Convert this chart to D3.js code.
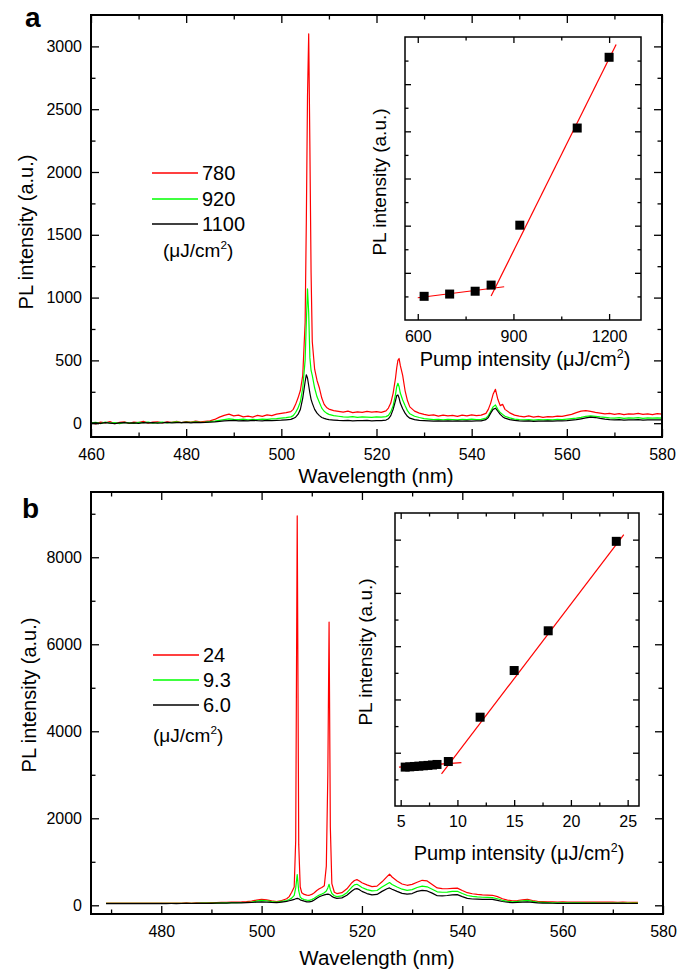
<!DOCTYPE html>
<html>
<head>
<meta charset="utf-8">
<script src="https://cdn.jsdelivr.net/npm/d3@7"></script>
<style>
body { margin: 0; background: #fff; }
text { font-family: Arial, "Liberation Sans", sans-serif; }
</style>
</head>
<body>
<script>
// ---- panel a: spectra at 780 / 920 / 1100 uJ/cm2 ----
let wlA = [460,461,462,463,464,465,466,467,468,469,470,471,472,473,474,475,476,477,478,479,480,481,482,483,484,485,486,
  487,488,489,490,491,492,493,494,495,496,497,498,499,500,501,502,
  502.5,503,503.5,504,504.5,505,
  505.25,505.5,505.75,506,506.25,506.5,
  507,507.5,508,508.5,509,509.5,510,
  511,512,513,514,515,516,517,518,519,520,521,522,
  522.5,523,523.5,524,
  524.25,524.5,524.75,525,
  525.5,526,526.5,527,
  528,529,530,531,532,533,534,535,536,537,538,539,540,541,542,543,
  543.5,544,544.5,545,545.5,546,546.5,547,
  548,549,550,551,552,553,554,555,556,557,558,559,560,561,562,563,564,565,566,567,568,569,570,571,572,573,574,575,576,577,578,579,580];
let a780 = [5,-6,8,2,12,-4,6,10,-2,9,4,14,0,8,11,3,10,6,15,4,12,8,16,10,14,18,30,
  48,62,72,58,64,50,56,48,62,54,66,60,72,78,84,92,
  110,150,200,260,380,800,
  1600,2600,3100,2200,1200,650,
  430,340,280,200,150,125,112,
  100,94,88,96,84,90,86,94,88,92,86,98,
  120,160,240,360,
  440,500,515,460,
  380,260,180,130,
  96,80,70,62,66,56,64,58,62,54,64,58,66,60,64,78,
  110,160,230,270,190,140,150,110,
  82,64,56,50,58,48,54,46,52,50,56,54,62,70,84,96,100,94,86,80,74,78,70,76,68,74,72,78,70,74,68,76,72];
let a920 = [2,6,-4,8,0,5,-3,7,3,-2,6,4,9,1,5,8,3,7,10,4,8,6,10,7,9,12,16,
  22,28,34,30,28,32,26,30,28,32,30,34,36,40,44,50,
  60,85,120,170,280,500,
  800,1070,880,520,420,380,
  280,210,165,120,95,80,70,
  60,55,50,48,52,46,50,48,46,50,48,52,
  62,90,140,230,
  290,318,290,240,
  185,140,100,75,
  55,45,36,32,28,30,26,30,28,26,30,28,32,28,30,40,
  60,95,130,145,110,85,70,55,
  42,32,28,26,28,24,28,26,28,26,30,28,32,36,40,46,55,58,55,50,46,42,40,44,38,42,40,44,38,42,40,42,40];
let a1100 = [0,3,-2,4,1,-3,2,5,0,3,-1,4,2,5,1,3,6,2,5,4,6,3,7,5,6,8,10,
  14,18,20,22,19,21,18,22,20,19,22,20,23,24,27,30,
  38,48,70,110,200,330,
  385,360,300,240,190,160,
  110,80,60,45,38,32,28,
  25,22,20,22,19,21,20,22,19,21,20,25,
  35,60,110,180,
  220,225,200,160,
  115,80,55,40,
  28,22,20,18,16,19,17,18,16,18,17,19,16,18,18,28,
  45,80,110,119,95,70,52,40,
  28,22,18,16,18,15,17,16,18,17,19,18,20,24,28,35,42,48,45,38,32,28,26,28,25,27,26,28,25,27,26,27,26];
let legendA = ["780", "920", "1100"];

// inset a: integrated PL vs pump
let pumpA = [620, 700, 780, 830, 920, 1100, 1200];
let plA = [502, 550, 610, 740, 2010, 4070, 5570];
let fitLowA = [[600, 472], [871, 705]];
let fitHighA = [[830, 508], [1222, 5841]];

// ---- panel b: spectra at 24 / 9.3 / 6.0 uJ/cm2 ----
let wlB = [469,470,471,472,473,474,475,476,477,478,479,480,481,482,483,484,485,486,487,488,
  489,490,491,492,493,494,495,496,497,498,499,500,501,502,503,504,
  505,505.5,506,506.5,506.8,507.1,507.4,507.7,508,
  508.5,509,509.5,510,510.5,511,511.5,512,512.5,
  512.9,513.2,513.45,513.7,514,514.5,515,
  516,517,518,518.5,519,519.5,520,
  521,522,523,524,525,525.5,526,
  527,528,529,530,531,532,533,534,535,536,537,538,539,540,541,542,543,544,545,546,
  547,548,549,550,551,552,553,554,555,556,557,558,559,560,561,562,563,564,565,566,
  567,568,569,570,571,572,573,574,575];
let b24 = [52,50,48,50,49,48,50,49,48,50,49,48,50,52,50,52,54,52,55,56,
  58,60,62,66,70,74,76,78,84,95,120,135,125,100,85,110,
  150,200,300,420,1500,8950,1400,420,290,
  250,235,230,250,290,340,380,410,450,
  900,3000,6510,1800,500,300,270,
  290,380,520,570,590,560,520,
  470,430,440,540,660,715,650,
  560,490,460,480,530,575,560,480,400,385,380,390,395,340,290,265,250,240,235,230,
  200,150,118,105,110,125,138,110,90,85,80,78,76,78,76,75,76,74,75,76,
  74,72,73,72,70,71,70,68,68];
let b93 = [45,44,43,44,43,42,44,43,42,44,43,42,44,45,44,45,46,45,47,48,
  49,50,52,55,58,60,62,64,68,76,95,112,105,85,72,90,
  110,135,165,230,400,706,330,190,155,
  130,118,115,130,160,200,235,260,290,
  330,400,483,360,270,220,200,
  215,290,420,470,483,450,410,
  360,330,340,420,490,522,480,
  420,370,345,360,410,440,425,370,310,300,305,318,322,270,225,205,192,185,180,176,
  150,115,92,82,88,100,115,90,72,66,62,58,56,56,55,55,54,54,53,54,
  53,52,53,52,51,52,51,50,50];
let b60 = [40,40,39,40,39,38,40,39,38,40,39,38,40,41,40,41,42,41,43,44,
  45,46,48,50,52,54,56,58,60,64,72,77,74,66,62,75,
  90,105,120,135,150,160,150,125,112,
  95,80,77,90,120,160,195,220,240,
  250,255,250,235,205,175,160,
  170,230,330,370,384,360,320,
  270,240,250,320,380,399,370,
  320,275,255,270,320,345,330,280,220,215,225,240,245,200,160,145,140,136,138,136,
  115,88,70,62,66,72,77,65,55,50,48,47,46,46,45,45,45,44,44,44,
  43,43,43,42,42,42,41,41,41];
let legendB = ["24", "9.3", "6.0"];

let pumpB = [5.4, 5.8, 6.2, 6.6, 7.0, 7.4, 7.8, 8.2, 9.2, 12, 15, 18, 24];
let plB = [730, 735, 742, 748, 755, 762, 770, 780, 835, 1667, 2543, 3289, 4968];
let fitLowB = [[4.85, 729], [10.35, 816]];
let fitHighB = [[8.6, 601], [24.66, 5094]];

let colors = ["#ff0000", "#00ff00", "#000000"];

// ---------------------------------------------------------------
let svg = d3.select("body").append("svg").attr("width", 680).attr("height", 971);

function ticks(g, axis, tr, vals, size, fmt, pad, fs) {
  let a = g.append("g")
    .attr("transform", tr)
    .call(axis.tickValues(vals).tickSize(-size).tickPadding(pad).tickFormat(fmt));
  a.select(".domain").remove();
  a.selectAll("line").attr("stroke", "#000").attr("stroke-width", 1.3);
  a.selectAll("text").attr("font-size", fs).attr("fill", "#000")
    .attr("font-family", "Arial, 'Liberation Sans', sans-serif");
  return a;
}

function frame(x, y, o) {
  let g = svg.append("g");
  let [x0, x1] = x.range();
  let [yb, yt] = y.range();
  let fmt = d3.format("d");
  ticks(g, d3.axisBottom(x), `translate(0,${yb})`, o.xMaj, o.maj, o.xFmt || fmt, o.xPad, o.fs);
  ticks(g, d3.axisBottom(x), `translate(0,${yb})`, o.xMin, o.min, "", 0, o.fs);
  ticks(g, d3.axisTop(x), `translate(0,${yt})`, o.xMaj, o.maj, "", 0, o.fs);
  ticks(g, d3.axisTop(x), `translate(0,${yt})`, o.xMin, o.min, "", 0, o.fs);
  ticks(g, d3.axisLeft(y), `translate(${x0},0)`, o.yMaj, o.maj, o.yLab ? fmt : "", o.yPad, o.fs);
  ticks(g, d3.axisLeft(y), `translate(${x0},0)`, o.yMin, o.min, "", 0, o.fs);
  ticks(g, d3.axisRight(y), `translate(${x1},0)`, o.yMaj, o.maj, "", 0, o.fs);
  ticks(g, d3.axisRight(y), `translate(${x1},0)`, o.yMin, o.min, "", 0, o.fs);
  g.append("rect")
    .attr("x", x0).attr("y", yt)
    .attr("width", x1 - x0).attr("height", yb - yt)
    .attr("fill", "none").attr("stroke", "#000").attr("stroke-width", o.sw);
  return g;
}

function spectra(x, y, wl, series, id) {
  let [x0, x1] = x.range();
  let [yb, yt] = y.range();
  svg.append("clipPath").attr("id", id).append("rect")
    .attr("x", x0).attr("y", yt).attr("width", x1 - x0).attr("height", yb - yt);
  let line = d3.line().x((d) => x(d[0])).y((d) => y(d[1]));
  series.forEach(function (s, k) {
    if (s.length != wl.length) console.error("length mismatch", id, k, s.length, wl.length);
    svg.append("path")
      .attr("clip-path", `url(#${id})`)
      .attr("d", line(wl.map((w, i) => [w, s[i]])))
      .attr("fill", "none")
      .attr("stroke", colors[k])
      .attr("stroke-width", 1.2)
      .attr("stroke-linejoin", "round");
  });
}

function legend(labels, x0, rows, unitY, unitX) {
  labels.forEach(function (l, k) {
    svg.append("line")
      .attr("x1", x0).attr("x2", x0 + 46)
      .attr("y1", rows[k]).attr("y2", rows[k])
      .attr("stroke", colors[k]).attr("stroke-width", 1.4);
    svg.append("text")
      .attr("x", x0 + 50).attr("y", rows[k] + 7)
      .attr("font-size", 20).text(l);
  });
  unitText(unitX, unitY, 19, "start");
}

function unitText(x, y, fs, anchor, prefix) {
  let t = svg.append("text").attr("x", x).attr("y", y)
    .attr("font-size", fs).attr("text-anchor", anchor);
  t.append("tspan").text((prefix || "") + "(\u03bcJ/cm");
  t.append("tspan").attr("font-size", fs * 0.62).attr("dy", -fs * 0.42).text("2");
  t.append("tspan").attr("dy", fs * 0.42).text(")");
}

function inset(x, y, pump, pl, lo, hi, o) {
  svg.append("rect")
    .attr("x", x.range()[0]).attr("y", y.range()[1])
    .attr("width", x.range()[1] - x.range()[0])
    .attr("height", y.range()[0] - y.range()[1])
    .attr("fill", "#fff");
  frame(x, y, o);
  [lo, hi].forEach(function (f) {
    svg.append("line")
      .attr("x1", x(f[0][0])).attr("y1", y(f[0][1]))
      .attr("x2", x(f[1][0])).attr("y2", y(f[1][1]))
      .attr("stroke", "#ff0000").attr("stroke-width", 1.2);
  });
  svg.selectAll(null)
    .data(pump.map((p, i) => [p, pl[i]]))
    .enter()
    .append("rect")
    .attr("x", (d) => x(d[0]) - 4.5)
    .attr("y", (d) => y(d[1]) - 4.5)
    .attr("width", 9).attr("height", 9)
    .attr("fill", "#000");
}

function yTitle(x, y, fs) {
  svg.append("text")
    .attr("transform", `translate(${x},${y}) rotate(-90)`)
    .attr("text-anchor", "middle").attr("font-size", fs)
    .text("PL intensity (a.u.)");
}

// ---------------- panel a ----------------
let xA = d3.scaleLinear().domain([460, 580]).range([91, 662]);
let yA = d3.scaleLinear().domain([-110, 3250]).range([437, 15]);

spectra(xA, yA, wlA, [a780, a920, a1100], "clipA");
frame(xA, yA, {
  xMaj: d3.range(460, 581, 20), xMin: d3.range(470, 580, 20),
  yMaj: d3.range(0, 3001, 500), yMin: d3.range(250, 3000, 500),
  maj: 8, min: 4.5, xPad: 12, yPad: 9, yLab: true, fs: 16, sw: 2
});
svg.append("text").attr("x", 376).attr("y", 483)
  .attr("text-anchor", "middle").attr("font-size", 20.5).text("Wavelength (nm)");
yTitle(33, 232, 20);
svg.append("text").attr("x", 25).attr("y", 27)
  .attr("font-size", 28).attr("font-weight", "bold").text("a");
legend(legendA, 152, [173, 199, 224], 257, 163);

let xIa = d3.scaleLinear().domain([560, 1300]).range([405, 641]);
let yIa = d3.scaleLinear().domain([0, 6000]).range([320, 37]);
inset(xIa, yIa, pumpA, plA, fitLowA, fitHighA, {
  xMaj: [600, 900, 1200], xMin: [750, 1050],
  yMaj: d3.range(1000, 5001, 1000), yMin: d3.range(500, 5600, 1000),
  maj: 6, min: 3.5, xPad: 10.5, yPad: 0, yLab: false, fs: 16, sw: 1.5
});
unitText(525, 366, 20, "middle", "Pump intensity ");
yTitle(386, 182, 19);

// ---------------- panel b ----------------
let xB = d3.scaleLinear().domain([466, 580]).range([91, 663]);
let yB = d3.scaleLinear().domain([-200, 9500]).range([914, 492]);

spectra(xB, yB, wlB, [b24, b93, b60], "clipB");
frame(xB, yB, {
  xMaj: d3.range(480, 581, 20), xMin: d3.range(470, 580, 20),
  yMaj: d3.range(0, 8001, 2000), yMin: d3.range(1000, 9001, 2000),
  maj: 8, min: 4.5, xPad: 11.5, yPad: 9, yLab: true, fs: 16, sw: 2
});
svg.append("text").attr("x", 377).attr("y", 965)
  .attr("text-anchor", "middle").attr("font-size", 20.5).text("Wavelength (nm)");
yTitle(36, 695, 20);
svg.append("text").attr("x", 22).attr("y", 518)
  .attr("font-size", 28).attr("font-weight", "bold").text("b");
legend(legendB, 153, [655, 680, 705], 742, 153);

let xIb = d3.scaleLinear().domain([4.5, 26]).range([395, 639]);
let yIb = d3.scaleLinear().domain([0, 5500]).range([806, 513]);
inset(xIb, yIb, pumpB, plB, fitLowB, fitHighB, {
  xMaj: [5, 10, 15, 20, 25], xMin: [7.5, 12.5, 17.5, 22.5],
  yMaj: d3.range(1000, 5001, 1000), yMin: d3.range(500, 5000, 1000),
  maj: 6, min: 3.5, xPad: 9.5, yPad: 0, yLab: false, fs: 16, sw: 1.5
});
unitText(519, 860, 20, "middle", "Pump intensity ");
yTitle(372, 652, 19);
</script>
</body>
</html>
